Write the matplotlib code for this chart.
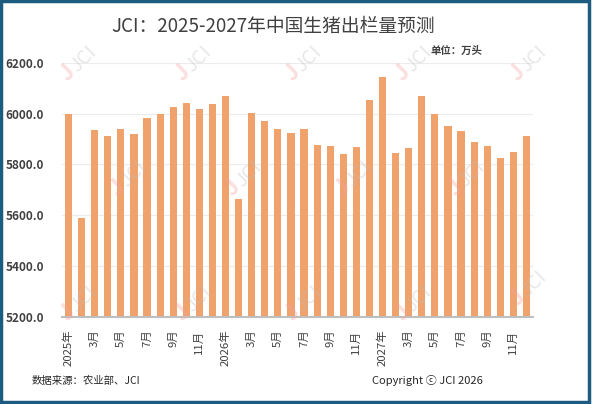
import matplotlib.pyplot as plt
from matplotlib.patches import Rectangle

plt.rcParams['font.family'] = ['Noto Sans CJK SC', 'DejaVu Sans']

# 月度出栏量（万头），2025-01 ~ 2027-12
months = [f'{y}-{m:02d}' for y in (2025, 2026, 2027) for m in range(1, 13)]
values = [5998, 5589, 5936, 5912, 5941, 5921, 5983, 5998, 6026, 6040, 6019, 6036,
          6068, 5663, 6001, 5972, 5941, 5925, 5941, 5877, 5873, 5841, 5867, 6052,
          6144, 5845, 5865, 6068, 5998, 5950, 5932, 5890, 5871, 5824, 5848, 5912]
tick_labels = ['2025年', '3月', '5月', '7月', '9月', '11月',
               '2026年', '3月', '5月', '7月', '9月', '11月',
               '2027年', '3月', '5月', '7月', '9月', '11月']

W, H = 592, 404
fig = plt.figure(figsize=(W / 100, H / 100), dpi=100)
ax = fig.add_axes([62 / W, 1 - 317 / H, (533 - 62) / W, (317 - 62.7) / H])

x = list(range(len(values)))
ax.bar(x, values, width=0.55, color='#F0A26C', zorder=2)
ax.set_xlim(-0.5, len(values) - 0.5)
ax.set_ylim(5200, 6200)
ax.set_yticks(range(5200, 6201, 200))
ax.set_yticklabels([f'{v:.1f}' for v in range(5200, 6201, 200)],
                   fontsize=8.5, color='#404040', fontweight='bold')
ax.set_xticks(x[::2])
ax.set_xticklabels(tick_labels, rotation=90, fontsize=8.2, color='#404040')
ax.tick_params(axis='y', length=0, pad=13)
ax.tick_params(axis='x', length=0, pad=9)
ax.grid(axis='y', color='#ececec', linewidth=0.8, zorder=0)
for s in ('top', 'right', 'left'):
    ax.spines[s].set_visible(False)
ax.spines['bottom'].set_color('#bfbfbf')
ax.spines['bottom'].set_linewidth(1.5)

# 水印
marks = [(75, 65), (190, 65), (300, 65), (410, 65), (525, 65),
         (125, 180), (240, 180), (350, 180), (463, 180),
         (75, 305), (190, 305), (300, 305), (410, 305), (525, 290)]
for mx, my in marks:
    fig.text((mx - 8) / W, 1 - (my + 8) / H, 'J', color='#f4a0a0', alpha=0.35,
             fontsize=16, fontweight='bold', rotation=45, ha='center', va='center', zorder=5)
    fig.text((mx + 8) / W, 1 - (my - 6) / H, 'JCI', color='#bdbdbd', alpha=0.35,
             fontsize=14, rotation=45, ha='center', va='center', zorder=5)

fig.text(273 / W, 1 - 26 / H, 'JCI：2025-2027年中国生猪出栏量预测',
         fontsize=13.5, color='#404040', ha='center', va='center')
fig.text(482 / W, 1 - 51 / H, '单位：万头', fontsize=7.5, color='#404040',
         fontweight='bold', ha='right', va='center')
fig.text(32 / W, 1 - 381 / H, '数据来源：农业部、JCI', fontsize=7.5,
         color='#262626', ha='left', va='center')
fig.text(483 / W, 1 - 381 / H, 'Copyright ⓒ JCI 2026', fontsize=8,
         color='#262626', ha='right', va='center')

fig.patches.append(Rectangle((0.002, 0.004), 0.993, 0.993, transform=fig.transFigure,
                             fill=False, edgecolor='#1d5c80', linewidth=2.5))

fig.savefig('out.png', dpi=100)
